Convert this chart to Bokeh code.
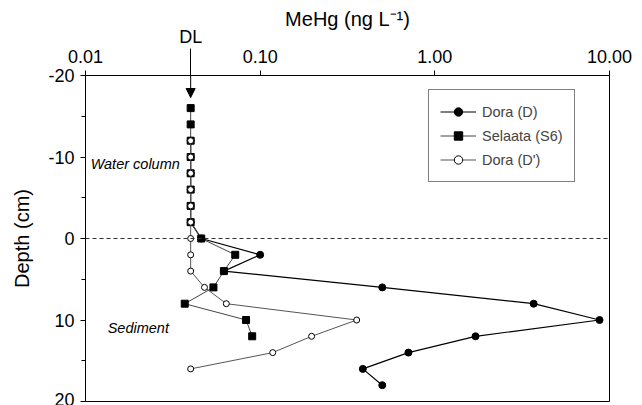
from bokeh.plotting import figure
from bokeh.models import (Range1d, FixedTicker, CustomJSTickFormatter, Span, Arrow,
                          NormalHead, Label, Legend, LegendItem, LogAxis)
from bokeh.embed import file_html
from bokeh.resources import INLINE

FONT = "Liberation Sans"

# ---- data ----
DL = 0.04
dora_d_depth = [-12, -10, -8, -6, -4, -2, 0, 2, 4, 6, 8, 10, 12, 14, 16, 18]
dora_d_mehg = [0.04, 0.04, 0.04, 0.04, 0.04, 0.04, 0.046, 0.10, 0.062, 0.50, 3.68, 8.77, 1.71, 0.706, 0.387, 0.50]

selaata_depth = [-16, -14, -12, -10, -8, -6, -4, -2, 0, 2, 4, 6, 8, 10, 12]
selaata_mehg = [0.04, 0.04, 0.04, 0.04, 0.04, 0.04, 0.04, 0.04, 0.046, 0.072, 0.062, 0.054, 0.037, 0.083, 0.090]

dora_dp_depth = [-12, -10, -8, -6, -4, -2, 0, 2, 4, 6, 8, 10, 12, 14, 16]
dora_dp_mehg = [0.04, 0.04, 0.04, 0.04, 0.04, 0.04, 0.04, 0.04, 0.04, 0.048, 0.064, 0.357, 0.197, 0.118, 0.04]

x_ticks = [0.01, 0.1, 1, 10]
y_ticks = [-20, -10, 0, 10, 20]
y_minor = [-15, -5, 5, 15]
y_tick_labels = {-20: "-20", -10: "-10", 0: "0", 10: "10", 20: "20"}

p = figure(width=642, height=405, x_axis_type="log", x_axis_location="above",
           x_range=Range1d(0.01, 10), y_range=Range1d(20, -20),
           output_backend="svg", toolbar_location=None,
           min_border_left=85, min_border_right=33, min_border_top=75, min_border_bottom=4)
p.grid.visible = False
p.outline_line_color = "black"
p.outline_line_width = 1
p.background_fill_color = "white"
p.border_fill_color = "white"

# x axis (top) - decade ticks, DL drawn as a long minor tick
xa = p.xaxis[0]
xa.ticker = FixedTicker(ticks=x_ticks, minor_ticks=[DL])
xa.formatter = CustomJSTickFormatter(code="return tick.toFixed(2);")
xa.major_label_text_font = FONT
xa.major_label_text_font_size = "18px"
xa.major_label_standoff = -14
xa.major_tick_out = 5
xa.major_tick_in = 0
xa.minor_tick_out = 27
xa.minor_tick_in = 0
xa.axis_line_color = "black"
xa.major_tick_line_color = "black"
xa.minor_tick_line_color = "black"
xa.major_label_text_color = "black"

# second top axis carrying the "DL" label and the axis title
xb = LogAxis(ticker=FixedTicker(ticks=[DL], minor_ticks=[]))
xb.formatter = CustomJSTickFormatter(code="return 'DL';")
xb.axis_line_color = None
xb.major_tick_line_color = None
xb.minor_tick_line_color = None
xb.major_tick_out = 0
xb.major_tick_in = 0
xb.major_label_standoff = 0
xb.major_label_text_font = FONT
xb.major_label_text_font_size = "18px"
xb.major_label_text_color = "black"
xb.axis_label = "MeHg (ng L\u207b\u00b9)"
xb.axis_label_text_font = FONT
xb.axis_label_text_font_size = "20px"
xb.axis_label_text_font_style = "normal"
xb.axis_label_text_color = "black"
xb.axis_label_standoff = -6
p.add_layout(xb, "above")

# y axis (left)
ya = p.yaxis[0]
ya.ticker = FixedTicker(ticks=y_ticks, minor_ticks=y_minor)
ya.major_label_overrides = y_tick_labels
ya.axis_label = "Depth (cm)"
ya.axis_label_text_font = FONT
ya.axis_label_text_font_size = "20px"
ya.axis_label_text_font_style = "normal"
ya.axis_label_standoff = 12
ya.major_label_text_font = FONT
ya.major_label_text_font_size = "18px"
ya.major_label_standoff = 6
ya.major_tick_out = 5
ya.major_tick_in = 0
ya.minor_tick_out = 4
ya.minor_tick_in = 0
ya.axis_line_color = "black"
ya.major_tick_line_color = "black"
ya.minor_tick_line_color = "black"
ya.major_label_text_color = "black"
ya.axis_label_text_color = "black"

# sediment-water interface
p.add_layout(Span(location=0, dimension="width", line_color="#333333",
                  line_width=1, line_dash="4 3"))

# series
r1l = p.line(dora_d_mehg, dora_d_depth, line_color="black", line_width=1.2)
r1s = p.scatter(dora_d_mehg, dora_d_depth, marker="circle", size=7, fill_color="black", line_color="black")

r2l = p.line(selaata_mehg, selaata_depth, line_color="#444444", line_width=1)
r2s = p.scatter(selaata_mehg, selaata_depth, marker="square", size=7, fill_color="black", line_color="black")

r3l = p.line(dora_dp_mehg, dora_dp_depth, line_color="#555555", line_width=1)
r3s = p.scatter(dora_dp_mehg, dora_dp_depth, marker="circle", size=6, fill_color="white",
                line_color="black", line_width=1)

legend = Legend(items=[LegendItem(label="Dora (D)", renderers=[r1l, r1s]),
                       LegendItem(label="Selaata (S6)", renderers=[r2l, r2s]),
                       LegendItem(label="Dora (D')", renderers=[r3l, r3s])],
                location=(343, 219), border_line_color="black", border_line_width=1,
                background_fill_color="white", background_fill_alpha=1,
                label_text_font=FONT, label_text_font_size="14.5px",
                glyph_width=36, glyph_height=21, label_standoff=6,
                padding=11, spacing=3, margin=0)
p.add_layout(legend, "center")

# detection limit arrow (inside the frame)
p.add_layout(Arrow(end=NormalHead(size=9, fill_color="black", line_color="black"),
                   x_start=DL, y_start=-20, x_end=DL, y_end=-17.3,
                   line_color="black", line_width=1))

# zone labels
p.add_layout(Label(x=0.0107, y=-9.2, text="Water column", text_align="left",
                   text_baseline="middle", text_font=FONT, text_font_size="14.5px",
                   text_font_style="italic", text_color="black"))
p.add_layout(Label(x=0.0134, y=11.0, text="Sediment", text_align="left",
                   text_baseline="middle", text_font=FONT, text_font_size="14.5px",
                   text_font_style="italic", text_color="black"))

open("out.html", "w").write(file_html(p, INLINE))
